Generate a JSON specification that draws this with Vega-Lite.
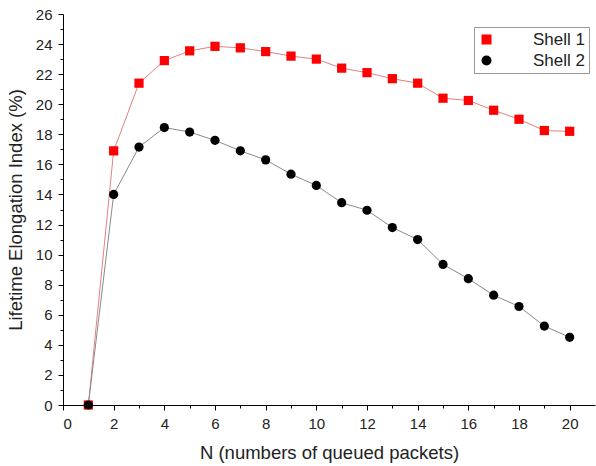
{
  "$schema": "https://vega.github.io/schema/vega-lite/v6.json",
  "width": 532,
  "height": 391,
  "autosize": "none",
  "padding": {"left": 63, "top": 14, "right": 1, "bottom": 61},
  "background": "white",
  "config": {
    "view": {"stroke": null},
    "font": "Liberation Sans",
    "axis": {"domainColor": "#000", "tickColor": "#000", "labelColor": "#222", "titleColor": "#222", "grid": false, "labelFont": "Liberation Sans", "titleFont": "Liberation Sans", "labelFontSize": 15, "titleFontSize": 18.5, "titleFontWeight": "normal", "domainWidth": 1, "tickWidth": 1}
  },
  "data": {
    "values": [
      {"N": 1, "value": 0, "series": "Shell 1"},
      {"N": 2, "value": 16.9, "series": "Shell 1"},
      {"N": 3, "value": 21.4, "series": "Shell 1"},
      {"N": 4, "value": 22.9, "series": "Shell 1"},
      {"N": 5, "value": 23.55, "series": "Shell 1"},
      {"N": 6, "value": 23.85, "series": "Shell 1"},
      {"N": 7, "value": 23.75, "series": "Shell 1"},
      {"N": 8, "value": 23.5, "series": "Shell 1"},
      {"N": 9, "value": 23.2, "series": "Shell 1"},
      {"N": 10, "value": 23.0, "series": "Shell 1"},
      {"N": 11, "value": 22.4, "series": "Shell 1"},
      {"N": 12, "value": 22.1, "series": "Shell 1"},
      {"N": 13, "value": 21.7, "series": "Shell 1"},
      {"N": 14, "value": 21.4, "series": "Shell 1"},
      {"N": 15, "value": 20.4, "series": "Shell 1"},
      {"N": 16, "value": 20.25, "series": "Shell 1"},
      {"N": 17, "value": 19.6, "series": "Shell 1"},
      {"N": 18, "value": 19.0, "series": "Shell 1"},
      {"N": 19, "value": 18.25, "series": "Shell 1"},
      {"N": 20, "value": 18.2, "series": "Shell 1"},
      {"N": 1, "value": 0, "series": "Shell 2"},
      {"N": 2, "value": 14.0, "series": "Shell 2"},
      {"N": 3, "value": 17.15, "series": "Shell 2"},
      {"N": 4, "value": 18.45, "series": "Shell 2"},
      {"N": 5, "value": 18.15, "series": "Shell 2"},
      {"N": 6, "value": 17.6, "series": "Shell 2"},
      {"N": 7, "value": 16.9, "series": "Shell 2"},
      {"N": 8, "value": 16.3, "series": "Shell 2"},
      {"N": 9, "value": 15.35, "series": "Shell 2"},
      {"N": 10, "value": 14.6, "series": "Shell 2"},
      {"N": 11, "value": 13.45, "series": "Shell 2"},
      {"N": 12, "value": 12.95, "series": "Shell 2"},
      {"N": 13, "value": 11.8, "series": "Shell 2"},
      {"N": 14, "value": 11.0, "series": "Shell 2"},
      {"N": 15, "value": 9.35, "series": "Shell 2"},
      {"N": 16, "value": 8.4, "series": "Shell 2"},
      {"N": 17, "value": 7.3, "series": "Shell 2"},
      {"N": 18, "value": 6.55, "series": "Shell 2"},
      {"N": 19, "value": 5.25, "series": "Shell 2"},
      {"N": 20, "value": 4.5, "series": "Shell 2"}
    ]
  },
  "encoding": {
    "x": {
      "field": "N", "type": "quantitative",
      "scale": {"domain": [0, 21], "nice": false, "zero": false},
      "axis": {
        "title": "N (numbers of queued packets)",
        "values": [0,1,2,3,4,5,6,7,8,9,10,11,12,13,14,15,16,17,18,19,20],
        "labelExpr": "datum.value % 2 == 0 ? datum.label : ''",
        "tickSize": {"condition": {"test": "datum.value % 2 == 0", "value": 5}, "value": 3},
        "labelPadding": 6,
        "titlePadding": 12
      }
    },
    "y": {
      "field": "value", "type": "quantitative",
      "scale": {"domain": [0, 26], "nice": false},
      "axis": {
        "title": "Lifetime Elongation Index (%)",
        "values": [0,1,2,3,4,5,6,7,8,9,10,11,12,13,14,15,16,17,18,19,20,21,22,23,24,25,26],
        "labelExpr": "datum.value % 2 == 0 ? datum.label : ''",
        "tickSize": {"condition": {"test": "datum.value % 2 == 0", "value": 5}, "value": 3},
        "labelPadding": 6,
        "titlePadding": 10
      }
    }
  },
  "layer": [
    {
      "transform": [{"filter": "datum.series == 'Shell 1'"}],
      "mark": {"type": "line", "strokeWidth": 1, "color": "#e58080"},
      "encoding": {}
    },
    {
      "transform": [{"filter": "datum.series == 'Shell 2'"}],
      "mark": {"type": "line", "strokeWidth": 1, "color": "#8a8a8a"},
      "encoding": {}
    },
    {
      "mark": {"type": "point", "filled": true, "size": 85, "opacity": 1},
      "encoding": {
        "color": {"field": "series", "type": "nominal", "scale": {"domain": ["Shell 1", "Shell 2"], "range": ["#ff0000", "#000000"]},
          "legend": {
            "title": null, "orient": "none", "legendX": 411, "legendY": 13,
            "labelFontSize": 17, "labelFont": "Liberation Sans", "labelColor": "#222",
            "strokeColor": "#999", "fillColor": "white", "padding": 4,
            "symbolSize": 100, "rowPadding": 3, "labelOffset": 38,
            "encode": {
              "symbols": {
                "shape": {"value": {"expr": "datum.value == 'Shell 1' ? 'M-1,0H7.4M2.3,-0.9H4.1V0.9H2.3Z' : 'M-1,0H7.4M2.2,0A1,1,0,1,1,4.2,0A1,1,0,1,1,2.2,0Z'"}},
                "fill": {"value": {"expr": "datum.value == 'Shell 1' ? '#ff0000' : '#000000'"}},
                "stroke": {"value": {"expr": "datum.value == 'Shell 1' ? '#e58080' : '#8a8a8a'"}},
                "strokeWidth": {"value": 1},
                "opacity": {"value": 1}
              },
              "labels": {
                "fontSize": {"value": 17}
              }
            }
          }},
        "shape": {"field": "series", "type": "nominal", "scale": {"domain": ["Shell 1", "Shell 2"], "range": ["square", "circle"]}, "legend": null}
      }
    }
  ]
}
